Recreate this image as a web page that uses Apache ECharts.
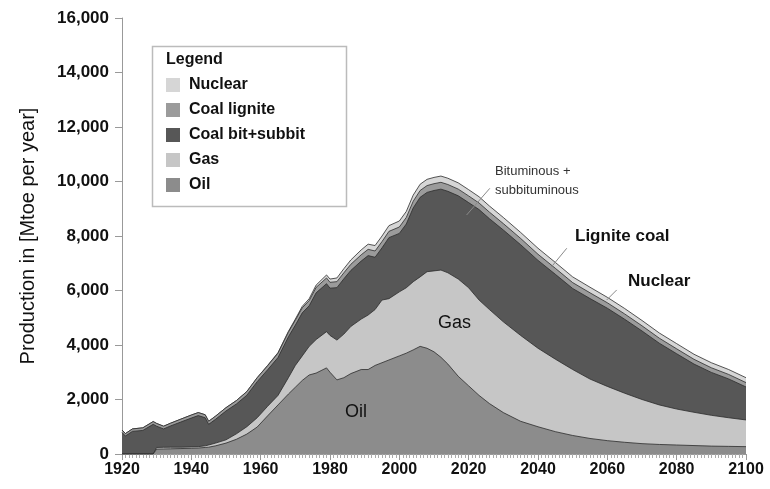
<!DOCTYPE html>
<html>
<head>
<meta charset="utf-8">
<script src="https://cdn.jsdelivr.net/npm/echarts@6/dist/echarts.min.js"></script>
<style>
  html, body { margin: 0; padding: 0; background: #fff; }
  #chart { width: 770px; height: 489px; }
</style>
</head>
<body>
<div id="chart"></div>
<script>
// years
const years = [1920, 1921, 1923, 1926, 1929, 1930, 1932, 1934, 1937, 1940,
  1942, 1944, 1945, 1947, 1950, 1953, 1956, 1959, 1962, 1965,
  1968, 1970, 1972, 1974, 1976, 1979, 1980, 1982, 1984, 1986,
  1989, 1991, 1993, 1995, 1997, 2000, 2002, 2004, 2006, 2008,
  2010, 2012, 2014, 2017, 2020, 2023, 2026, 2030, 2035, 2040,
  2045, 2050, 2055, 2060, 2065, 2070, 2075, 2080, 2085, 2090,
  2095, 2100]

// layer values, Mtoe per year (bottom to top)
const oil = [0, 0, 0, 0, 0, 180, 185, 190, 200, 210,
  220, 240, 250, 300, 400, 540, 730, 990, 1400, 1800,
  2200, 2450, 2700, 2900, 2970, 3160, 3000, 2720, 2800, 2950,
  3100, 3100, 3250, 3350, 3450, 3600, 3700, 3820, 3950, 3880,
  3750, 3550, 3300, 2850, 2500, 2150, 1850, 1520, 1200, 1000,
  820, 680, 570, 490, 430, 380, 350, 330, 310, 290,
  280, 270]
const gas = [0, 0, 0, 0, 0, 60, 60, 60, 50, 50,
  50, 60, 80, 100, 120, 200, 270, 340, 350, 350,
  600, 800, 900, 1050, 1230, 1330, 1350, 1460, 1600, 1730,
  1850, 2000, 2050, 2300, 2250, 2350, 2400, 2500, 2550, 2810,
  2970, 3200, 3350, 3570, 3600, 3500, 3450, 3330, 3150, 2880,
  2660, 2420, 2180, 1990, 1800, 1620, 1450, 1320, 1220, 1130,
  1050, 980]
const coalBit = [790, 660, 830, 865, 1090, 780, 675, 780, 925, 1060,
  1140, 1030, 760, 875, 1060, 1095, 1155, 1325, 1340, 1390,
  1500, 1480, 1580, 1490, 1715, 1760, 1735, 1925, 2030, 2055,
  2130, 2180, 1920, 1915, 2240, 2145, 2340, 2710, 2920, 2910,
  2950, 2970, 2990, 3055, 3125, 3320, 3335, 3370, 3330, 3225,
  3115, 2975, 2955, 2870, 2715, 2515, 2265, 2030, 1770, 1575,
  1425, 1210]
const lignite = [90, 90, 90, 95, 100, 100, 100, 100, 105, 110,
  110, 110, 110, 115, 120, 125, 135, 145, 150, 160,
  170, 180, 185, 190, 200, 210, 215, 220, 220, 225,
  230, 230, 230, 230, 230, 235, 240, 245, 250, 250,
  250, 250, 250, 245, 245, 240, 240, 235, 230, 225,
  220, 215, 210, 200, 195, 190, 185, 180, 175, 170,
  165, 160]
const nuclear = [0, 0, 0, 0, 0, 0, 0, 0, 0, 0,
  0, 0, 0, 0, 0, 0, 0, 0, 10, 20,
  30, 40, 55, 70, 85, 110, 120, 135, 150, 160,
  180, 190, 200, 205, 210, 220, 220, 225, 230, 230,
  230, 230, 230, 230, 230, 230, 225, 225, 220, 220,
  215, 210, 205, 200, 200, 195, 190, 190, 185, 185,
  180, 180]

const yTicks = [0, 2000, 4000, 6000, 8000, 10000, 12000, 14000, 16000]

// leader lines for the call-outs, in data space [year, value]
const leaders = [
  [[2019.4, 8770], [2026.1, 9750]],
  [[2043.9, 6870], [2048.3, 7550]],
  [[2059.8, 5650], [2062.7, 6020]]
]

const FONT = 'Liberation Sans, Arial, sans-serif'

// bottom to top
const layers = [
  { name: 'Oil', data: oil, color: '#8c8c8c' },
  { name: 'Gas', data: gas, color: '#c6c6c6' },
  { name: 'Coal bit+subbit', data: coalBit, color: '#575757' },
  { name: 'Coal lignite', data: lignite, color: '#9b9b9b' },
  { name: 'Nuclear', data: nuclear, color: '#d6d6d6' }
]

// running totals so each layer sits on the ones below it
let running = years.map(() => 0)
const stacked = layers.map(l => {
  running = running.map((v, k) => v + l.data[k])
  return running.slice()
})

// top layer drawn first, lower layers painted over it
const series = layers.map((l, i) => ({
  name: l.name,
  type: 'line',
  symbol: 'none',
  z: 2 + (layers.length - i),
  data: years.map((y, k) => [y, stacked[i][k]]),
  itemStyle: { color: l.color },
  lineStyle: { color: '#2c2c2c', width: 0.8 },
  areaStyle: { color: l.color, opacity: 1 }
})).reverse()

// leaders must sit above every area
series[series.length - 1].markLine = {
  silent: true,
  z: 30,
  symbol: 'none',
  label: { show: false },
  lineStyle: { color: '#8a8a8a', width: 1, type: 'solid' },
  data: leaders.map(p => [{ coord: p[0] }, { coord: p[1] }])
}

const chart = echarts.init(document.getElementById('chart'))
chart.setOption({
  animation: false,
  backgroundColor: '#fff',
  grid: { left: 122, right: 24, top: 18, bottom: 35 },
  legend: {
    orient: 'vertical',
    left: 166,
    top: 77,
    icon: 'rect',
    itemWidth: 14,
    itemHeight: 14,
    itemGap: 9,
    padding: 0,
    selectedMode: false,
    itemStyle: { borderWidth: 0 },
    textStyle: { fontFamily: FONT, fontSize: 16, fontWeight: 'bold', color: '#111', padding: [0, 0, 0, 4] },
    data: ['Nuclear', 'Coal lignite', 'Coal bit+subbit', 'Gas', 'Oil']
  },
  xAxis: {
    type: 'value',
    min: 1920,
    max: 2100,
    interval: 20,
    axisLine: { show: true, lineStyle: { color: '#999' } },
    axisTick: { show: true, length: 6, lineStyle: { color: '#999' } },
    minorTick: { show: true, splitNumber: 20, length: 4, lineStyle: { color: '#aaa' } },
    splitLine: { show: false },
    axisLabel: {
      fontFamily: FONT, fontSize: 16, fontWeight: 'bold', color: '#111', margin: 8,
      formatter: v => String(v)
    }
  },
  yAxis: {
    type: 'value',
    min: yTicks[0],
    max: yTicks[yTicks.length - 1],
    interval: 2000,
    name: 'Production in [Mtoe per year]',
    nameLocation: 'middle',
    nameGap: 84,
    nameTextStyle: { fontFamily: FONT, fontSize: 20, color: '#111' },
    axisLine: { show: true, lineStyle: { color: '#999' } },
    axisTick: { show: true, length: 7, lineStyle: { color: '#999' } },
    splitLine: { show: false },
    axisLabel: {
      fontFamily: FONT, fontSize: 17, fontWeight: 'bold', color: '#111', margin: 13,
      formatter: v => v.toLocaleString('en-US')
    }
  },
  series: series,
  graphic: [
    { type: 'rect', z: 1, shape: { x: 152.5, y: 46.5, width: 194, height: 160 },
      style: { fill: '#fff', stroke: '#bbb', lineWidth: 1.5 } },
    { type: 'text', z: 2, left: 166, top: 52,
      style: { text: 'Legend', font: 'bold 16px ' + FONT, fill: '#111' } },
    { type: 'text', left: 495, top: 165,
      style: { text: 'Bituminous +', font: '13px ' + FONT, fill: '#333' } },
    { type: 'text', left: 495, top: 184,
      style: { text: 'subbituminous', font: '13px ' + FONT, fill: '#333' } },
    { type: 'text', left: 575, top: 228,
      style: { text: 'Lignite coal', font: 'bold 17px ' + FONT, fill: '#111' } },
    { type: 'text', left: 628, top: 273,
      style: { text: 'Nuclear', font: 'bold 17px ' + FONT, fill: '#111' } },
    { type: 'text', z: 20, left: 438, top: 314,
      style: { text: 'Gas', font: '18px ' + FONT, fill: '#111' } },
    { type: 'text', z: 20, left: 345, top: 403,
      style: { text: 'Oil', font: '18px ' + FONT, fill: '#111' } }
  ]
})
</script>
</body>
</html>
